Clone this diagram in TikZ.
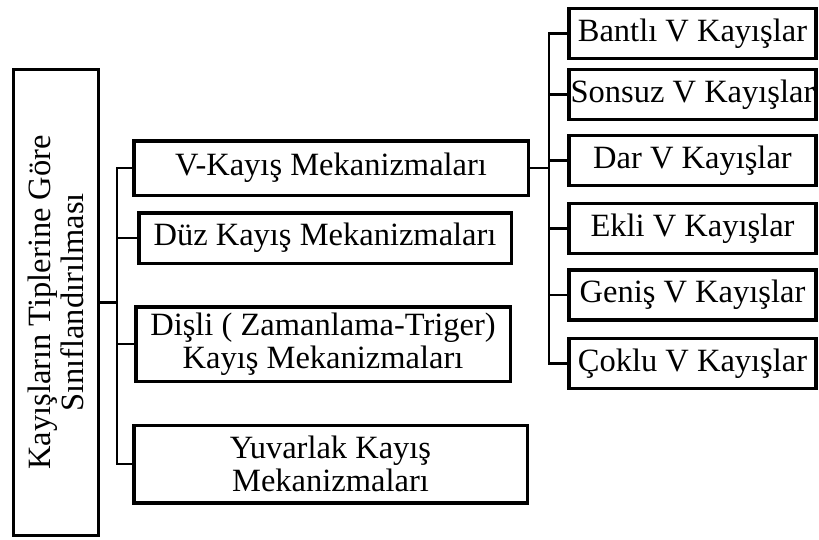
\documentclass[tikz,border=0pt]{standalone}
\usepackage{fontspec}
\setmainfont{Liberation Serif}
\usepackage{tikz}

\tikzset{
  box/.style={draw, line width=3.5pt, inner sep=0pt, align=center,
    font=\fontsize{32.5}{33}\selectfont},
  vbox/.style={box, minimum width=247pt, minimum height=50pt},
  conn/.style={line width=2.2pt},
}

\begin{document}
\begin{tikzpicture}[x=1pt,y=-1pt]
            \useasboundingbox (0,0) rectangle (819,539);

            % Root: rotated box on the left
            \node[box, line width=3pt, rotate=90, minimum width=466pt, minimum height=85pt]
              (root) at (56,302.5) {Kayışların Tiplerine Göre\\Sınıflandırılması};

            % Middle column: belt mechanisms
            \node[box, minimum width=394.5pt, minimum height=54.5pt] (vkayis) at (331,168) {V-Kayış Mekanizmaları};
            \node[box, minimum width=372.5pt, minimum height=50.5pt] (duz) at (325,238) {Düz Kayış Mekanizmaları};
            \node[box, minimum width=374.5pt, minimum height=74.5pt] (disli) at (323,344) {Dişli ( Zamanlama-Triger)\\Kayış Mekanizmaları};
            \node[box, minimum width=393.5pt, minimum height=77.5pt] (yuvarlak) at (330.5,464) {Yuvarlak Kayış\\Mekanizmaları};

            % Right column: V-belt types
            \foreach \name/\y/\txt in {bantli/33.5/Bantlı V Kayışlar, sonsuz/94.5/Sonsuz V Kayışlar,
                dar/160.5/Dar V Kayışlar, ekli/228.5/Ekli V Kayışlar,
                genis/295/Geniş V Kayışlar, coklu/363.5/Çoklu V Kayışlar}
              \node[vbox] (\name) at (692.5,\y) {\txt};

            % Connectors: root to middle column
            \foreach \b in {vkayis,duz,disli,yuvarlak}
              \draw[conn] (root.south) -- ++(17,0) |- (\b.west);

            % Connectors: V-belt box to right column
            \foreach \b in {bantli,sonsuz,dar,ekli,genis,coklu}
              \draw[conn] (vkayis.east) -- ++(19,0) |- (\b.west);
        \end{tikzpicture}
\end{document}
